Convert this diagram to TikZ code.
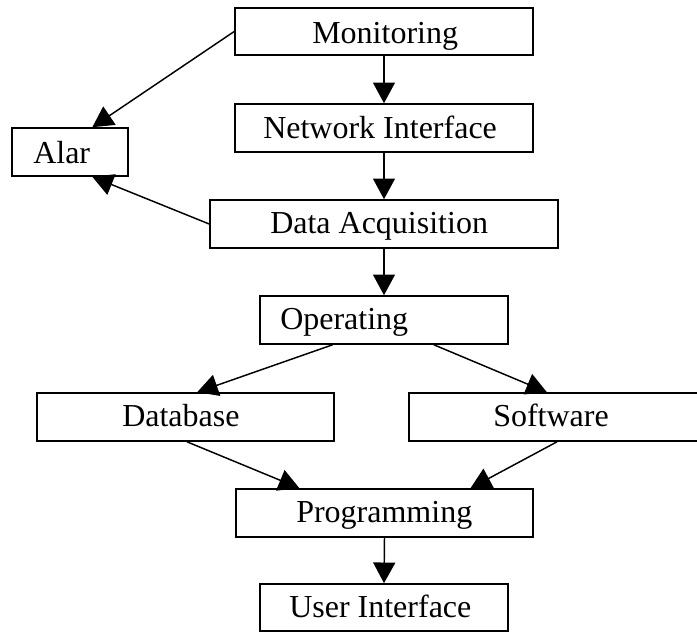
\documentclass[tikz,border=0pt]{standalone}
\usepackage{fontspec}
\setmainfont{Liberation Serif}
\usetikzlibrary{arrows.meta,fit,calc}
\tikzset{
  box/.style={draw, line width=1.2pt, inner sep=0pt, rectangle},
  lbl/.style={inner sep=0pt, anchor=base west, font=\fontsize{24}{28}\selectfont},
  flow/.style={line width=1.1pt, -{Triangle[length=15.5pt,width=16.5pt]}}
}
\begin{document}
\begin{tikzpicture}[x=0.75pt,y=-0.75pt]
\useasboundingbox (0,0) rectangle (697,632);

% boxes
\node[box, fit={(235,8) (533,55)}]    (mon)  {};
\node[box, fit={(235,104) (533,152)}] (net)  {};
\node[box, fit={(12,128) (128,176)}]  (alar) {};
\node[box, fit={(210,200) (558,248)}] (daq)  {};
\node[box, fit={(260,296) (508,344)}] (op)   {};
\node[box, fit={(37,393) (334,441)}]  (db)   {};
\node[box, fit={(409,393) (705,441)}] (sw)   {};
\node[box, fit={(236,489) (533,537)}] (prog) {};
\node[box, fit={(260,584) (508,631)}] (ui)   {};

% labels
\node[lbl] (mon-t)  at (312,43)  {Monitoring};
\node[lbl] (net-t)  at (263,138) {Network Interface};
\node[lbl] (alar-t) at (33,163)  {Alar};
\node[lbl] (daq-t)  at (270,233) {Data Acquisition};
\node[lbl] (op-t)   at (280,329) {Operating};
\node[lbl] (db-t)   at (122,426) {Database};
\node[lbl] (sw-t)   at (493,426) {Software};
\node[lbl] (prog-t) at (296,522) {Programming};
\node[lbl] (ui-t)   at (289,617) {User Interface};

% connectors
\draw[flow] (mon.south) -- (net.north);
\draw[flow] (net.south) -- (daq.north);
\draw[flow] (daq.south) -- (op.north);
\draw[flow] (prog.south) -- (ui.north);
\draw[flow] (mon.west) -- ($(alar.north west)!0.69!(alar.north east)$);
\draw[flow] (daq.west) -- ($(alar.south west)!0.69!(alar.south east)$);
\draw[flow] ($(op.south west)!0.294!(op.south east)$) -- ($(db.north west)!0.539!(db.north east)$);
\draw[flow] ($(op.south west)!0.70!(op.south east)$) -- ($(sw.north west)!0.466!(sw.north east)$);
\draw[flow] ($(db.south west)!0.505!(db.south east)$) -- ($(prog.north west)!0.215!(prog.north east)$);
\draw[flow] ($(sw.south west)!0.50!(sw.south east)$) -- ($(prog.north west)!0.788!(prog.north east)$);
\end{tikzpicture}
\end{document}
